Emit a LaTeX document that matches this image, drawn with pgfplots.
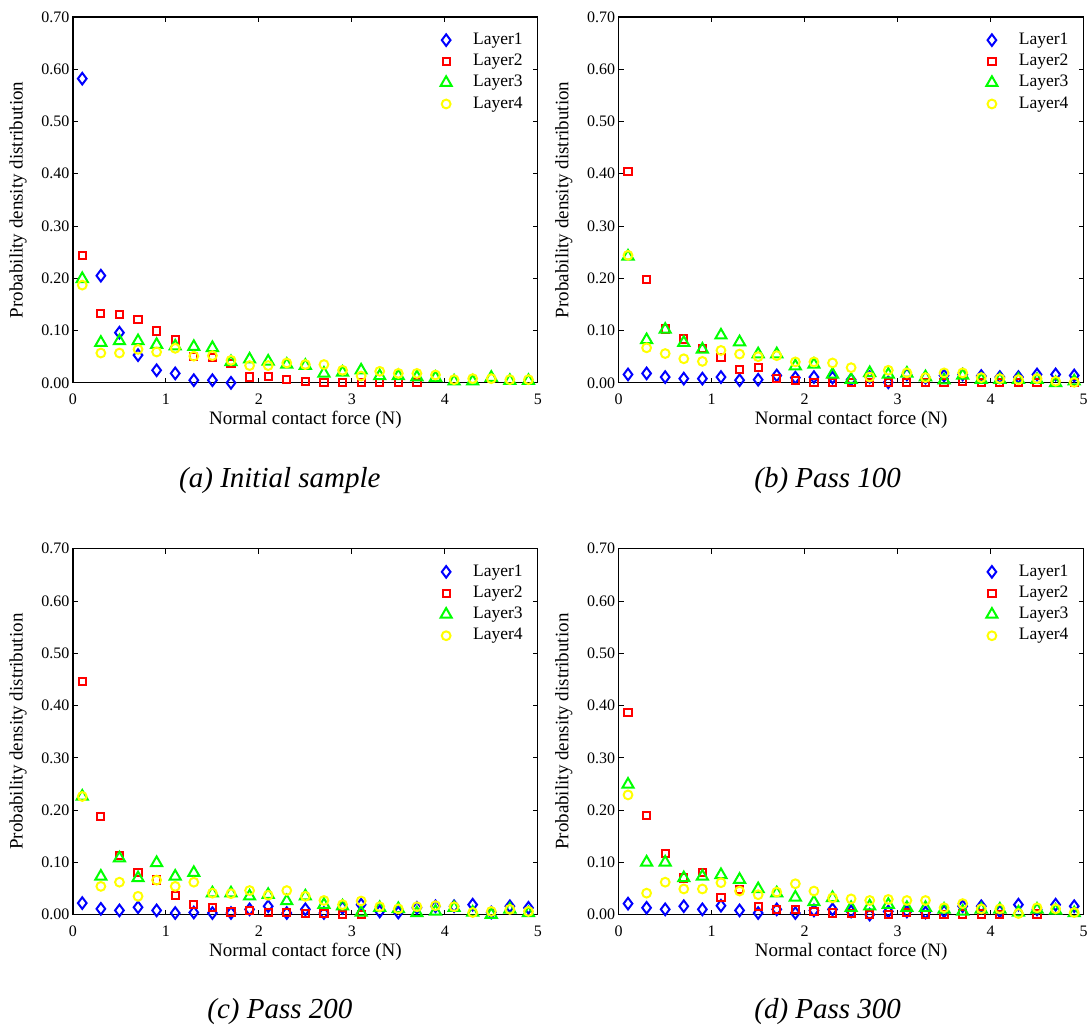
\documentclass[border=0pt]{standalone}
\usepackage{fontspec}
\setmainfont{Liberation Serif}
\usepackage{pgfplots}
\pgfplotsset{compat=1.18}
\usepackage{pgfplotstable}

\definecolor{cB}{RGB}{0,0,255}
\definecolor{cR}{RGB}{255,0,0}
\definecolor{cG}{RGB}{0,255,0}
\definecolor{cY}{RGB}{255,255,0}

\pgfplotstableread{
x L1 L2 L3 L4
0.1 0.582 0.244 0.199 0.187
0.3 0.205 0.133 0.077 0.057
0.5 0.096 0.131 0.080 0.057
0.7 0.053 0.121 0.080 0.064
0.9 0.024 0.099 0.073 0.059
1.1 0.018 0.082 0.070 0.066
1.3 0.005 0.050 0.069 0.051
1.5 0.005 0.048 0.067 0.052
1.7 0.000 0.037 0.040 0.043
1.9 nan 0.011 0.045 0.033
2.1 nan 0.012 0.041 0.033
2.3 nan 0.006 0.035 0.038
2.5 nan 0.003 0.033 0.035
2.7 nan 0.001 0.018 0.035
2.9 nan 0.000 0.020 0.024
3.1 nan 0.000 0.024 0.013
3.3 nan 0.000 0.013 0.022
3.5 nan 0.000 0.013 0.018
3.7 nan 0.000 0.011 0.018
3.9 nan nan 0.010 0.015
4.1 nan nan 0.003 0.006
4.3 nan nan 0.003 0.008
4.5 nan nan 0.010 0.008
4.7 nan nan 0.004 0.006
4.9 nan nan 0.004 0.006
}\tabA

\pgfplotstableread{
x L1 L2 L3 L4
0.1 0.016 0.404 0.242 0.244
0.3 0.018 0.198 0.082 0.067
0.5 0.011 0.103 0.102 0.056
0.7 0.008 0.084 0.077 0.046
0.9 0.008 0.065 0.064 0.041
1.1 0.011 0.048 0.091 0.062
1.3 0.005 0.026 0.078 0.055
1.5 0.006 0.029 0.055 0.050
1.7 0.014 0.008 0.055 0.052
1.9 0.010 0.005 0.032 0.040
2.1 0.011 0.001 0.035 0.040
2.3 0.010 0.000 0.016 0.038
2.5 0.006 0.000 0.006 0.029
2.7 0.011 0.000 0.019 0.011
2.9 0.001 0.000 0.016 0.024
3.1 0.016 0.000 0.018 0.019
3.3 0.010 0.000 0.011 0.010
3.5 0.014 0.001 0.005 0.019
3.7 0.016 0.002 0.014 0.019
3.9 0.013 0.000 0.006 0.010
4.1 0.011 0.000 0.006 0.008
4.3 0.011 0.001 0.006 0.006
4.5 0.016 0.001 0.006 0.008
4.7 0.016 0.000 0.000 0.003
4.9 0.014 0.000 0.003 0.001
}\tabB

\pgfplotstableread{
x L1 L2 L3 L4
0.1 0.022 0.446 0.226 0.226
0.3 0.011 0.187 0.073 0.054
0.5 0.008 0.113 0.108 0.062
0.7 0.014 0.080 0.070 0.035
0.9 0.008 0.066 0.099 0.066
1.1 0.003 0.036 0.073 0.054
1.3 0.004 0.020 0.080 0.062
1.5 0.003 0.014 0.041 0.041
1.7 0.003 0.005 0.041 0.040
1.9 0.010 0.008 0.035 0.046
2.1 0.016 0.004 0.038 0.037
2.3 0.003 0.004 0.026 0.046
2.5 0.010 0.002 0.035 0.035
2.7 0.003 0.002 0.019 0.027
2.9 0.013 0.000 0.016 0.019
3.1 0.019 0.000 0.004 0.026
3.3 0.006 nan 0.013 0.015
3.5 0.004 nan 0.011 0.011
3.7 0.013 nan 0.003 0.015
3.9 0.016 nan 0.006 0.017
4.1 0.016 nan 0.013 0.015
4.3 0.019 nan 0.004 0.004
4.5 0.004 nan 0.000 0.006
4.7 0.016 nan 0.010 0.010
4.9 0.013 nan 0.003 0.006
}\tabC

\pgfplotstableread{
x L1 L2 L3 L4
0.1 0.021 0.387 0.249 0.229
0.3 0.013 0.189 0.100 0.041
0.5 0.010 0.117 0.100 0.062
0.7 0.016 0.070 0.070 0.049
0.9 0.010 0.080 0.073 0.049
1.1 0.017 0.032 0.076 0.061
1.3 0.008 0.048 0.067 0.045
1.5 0.003 0.016 0.049 0.038
1.7 0.010 0.010 0.041 0.043
1.9 0.003 0.010 0.033 0.059
2.1 0.008 0.006 0.024 0.045
2.3 0.010 0.003 0.032 0.032
2.5 0.006 0.002 0.013 0.030
2.7 0.000 0.000 0.016 0.027
2.9 0.006 0.000 0.019 0.029
3.1 0.006 0.004 0.013 0.027
3.3 0.004 0.000 0.013 0.027
3.5 0.006 0.000 0.010 0.013
3.7 0.016 0.001 0.006 0.021
3.9 0.016 0.001 0.010 0.011
4.1 0.006 0.000 0.010 0.011
4.3 0.019 nan 0.004 0.002
4.5 0.010 0.001 0.010 0.013
4.7 0.019 nan 0.008 0.011
4.9 0.016 nan 0.003 0.004
}\tabD

\pgfplotsset{
  panel/.style={
    scale only axis, width=465pt, height=366pt,
    xmin=0, xmax=5, ymin=0, ymax=0.7,
    xtick={0,1,2,3,4,5},
    ytick={0,0.1,0.2,0.3,0.4,0.5,0.6,0.7},
    clip=false,
    axis line style={line width=1.2pt},
    every tick/.style={black, line width=0.9pt},
    major tick length=5pt,
    /pgf/number format/assume math mode=true,
    ticklabel style={font=\fontsize{16}{16}\selectfont},
    yticklabel style={/pgf/number format/.cd, fixed, fixed zerofill, precision=2},
    xticklabel style={anchor=base, yshift=-22pt, inner sep=0.5pt},
    xlabel={Normal contact force (N)},
    xlabel style={font=\fontsize{19}{19}\selectfont, at={(axis description cs:0.5,-0.1148)}, anchor=base},
    ylabel={Probability density distribution},
    ylabel style={font=\fontsize{19}{19}\selectfont, at={(axis description cs:-0.1183,0.5)}, anchor=center},
    legend cell align=left,
    legend image code/.code={\draw[##1] plot coordinates {(0pt,0pt)};},
    legend style={draw=none, fill=none, inner sep=0pt, outer sep=0pt,
      font=\fontsize{17.5}{17.5}\selectfont,
      nodes={inner sep=0pt, text height=12pt, text depth=3.5pt},
      row sep=5.8pt, column sep=21.5pt,
      at={(axis description cs:0.791,0.958)}, anchor=north west},
  },
  s1/.style={only marks, mark=diamond, mark size=5.8pt, mark options={draw=cB, line width=2pt, fill=none}},
  s2/.style={only marks, mark=square, mark size=3.6pt, mark options={draw=cR, line width=2pt, fill=none}},
  s3/.style={only marks, mark=triangle, mark size=6.4pt, mark options={draw=cG, line width=2pt, fill=none}},
  s4/.style={only marks, mark=o, mark size=4.4pt, mark options={draw=cY, line width=2pt, fill=none}},
}

\newcommand{\panelplots}[1]{%
  \addplot[s1] table[x=x, y=L1] {#1}; \addlegendentry{Layer1}
  \addplot[s2] table[x=x, y=L2] {#1}; \addlegendentry{Layer2}
  \addplot[s3] table[x=x, y=L3] {#1}; \addlegendentry{Layer3}
  \addplot[s4] table[x=x, y=L4] {#1}; \addlegendentry{Layer4}
}

\begin{document}
\begin{tikzpicture}
\path (0pt,0pt) rectangle (1088pt,1028pt);

\begin{axis}[panel, at={(73pt,645pt)}, anchor=south west]
\panelplots{\tabA}
\end{axis}

\begin{axis}[panel, at={(619pt,645pt)}, anchor=south west]
\panelplots{\tabB}
\end{axis}

\begin{axis}[panel, at={(73pt,113pt)}, anchor=south west]
\panelplots{\tabC}
\end{axis}

\begin{axis}[panel, at={(619pt,113pt)}, anchor=south west]
\panelplots{\tabD}
\end{axis}

\node[font=\fontsize{29}{29}\selectfont\itshape, inner sep=0pt] at (280pt,547pt) {(a) Initial sample};
\node[font=\fontsize{29}{29}\selectfont\itshape, inner sep=0pt] at (828pt,547pt) {(b) Pass 100};
\node[font=\fontsize{29}{29}\selectfont\itshape, inner sep=0pt] at (280pt,16pt) {(c) Pass 200};
\node[font=\fontsize{29}{29}\selectfont\itshape, inner sep=0pt] at (828pt,16pt) {(d) Pass 300};
\end{tikzpicture}
\end{document}
